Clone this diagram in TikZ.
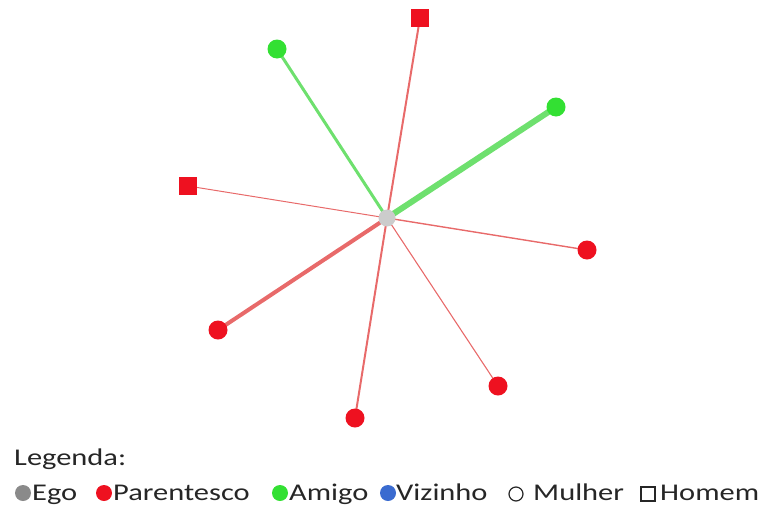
\documentclass[tikz,border=0pt]{standalone}
\usepackage{fontspec}
\setmainfont{Carlito}[FakeStretch=1.27]
\usetikzlibrary{%
  backgrounds,% wg. pgfonlayer
  positioning%
}
\definecolor{egogray}{HTML}{CCCCCC}
\definecolor{legegray}{HTML}{8A8A8A}
\definecolor{kinred}{HTML}{EE1120}
\definecolor{friendgreen}{HTML}{33E033}
\definecolor{neighblue}{HTML}{3A6BD0}
\definecolor{kinedge}{HTML}{E86A6A}
\definecolor{friendedge}{HTML}{6EE06E}

\begin{document}
\begin{tikzpicture}[
    x=1pt,y=-1pt,
    line cap=round,
    ego/.style={circle,fill=egogray,minimum size=17pt,inner sep=0pt},
    woman/.style={circle,fill=#1,minimum size=19pt,inner sep=0pt},
    man/.style={rectangle,fill=#1,minimum size=18pt,inner sep=0pt},
    kin/.style={draw=kinedge,line width=#1},
    friend/.style={draw=friendedge,line width=#1},
    legdot/.style={circle,fill=#1,minimum size=16pt,inner sep=0pt},
    legtext/.style={anchor=base west,inner sep=0pt,font=\fontsize{24}{28}\selectfont,text=black!85}
  ]
    \useasboundingbox (0,0) rectangle (766,517);

    % ego und alteri
    \node [ego]                 (ego) at (387,218) {};
    \node [man=kinred]          (m1)  at (420,18)  {};
    \node [man=kinred]          (m2)  at (188,186) {};
    \node [woman=friendgreen]   (f1)  at (277,49)  {};
    \node [woman=friendgreen]   (f2)  at (556,107) {};
    \node [woman=kinred]        (k1)  at (587,250) {};
    \node [woman=kinred]        (k2)  at (218,330) {};
    \node [woman=kinred]        (k3)  at (355,418) {};
    \node [woman=kinred]        (k4)  at (498,386) {};

    \begin{pgfonlayer}{background}
        \foreach \alter/\w in {m1/2pt,m2/1pt,k1/1.4pt,k2/4pt,k3/2pt,k4/1.1pt}
            \draw [kin=\w] (ego.center) -- (\alter.center);
        \foreach \alter/\w in {f1/3pt,f2/6pt}
            \draw [friend=\w] (ego.center) -- (\alter.center);
    \end{pgfonlayer}

    % Legende
    \node [legtext] (legtitle) at (14,465) {Legenda:};
    \node [legdot=legegray]    (dego)   at (23,493)  {};
    \node [legtext]            (tego)   at (32,500)  {Ego};
    \node [legdot=kinred]      (dkin)   at (104,493) {};
    \node [legtext]            (tkin)   at (113,500) {Parentesco};
    \node [legdot=friendgreen] (dfr)    at (280,493) {};
    \node [legtext]            (tfr)    at (289,500) {Amigo};
    \node [legdot=neighblue]   (dnb)    at (388,493) {};
    \node [legtext]            (tnb)    at (396,500) {Vizinho};
    \node [circle,draw=black!85,line width=1.2pt,minimum size=14pt,inner sep=0pt]
                               (dwoman) at (516,494) {};
    \node [legtext]            (twoman) at (533,500) {Mulher};
    \node [rectangle,draw=black!85,line width=1.2pt,minimum size=14pt,inner sep=0pt]
                               (dman)   at (648,494) {};
    \node [legtext]            (tman)   at (660,500) {Homem};
\end{tikzpicture}
\end{document}
